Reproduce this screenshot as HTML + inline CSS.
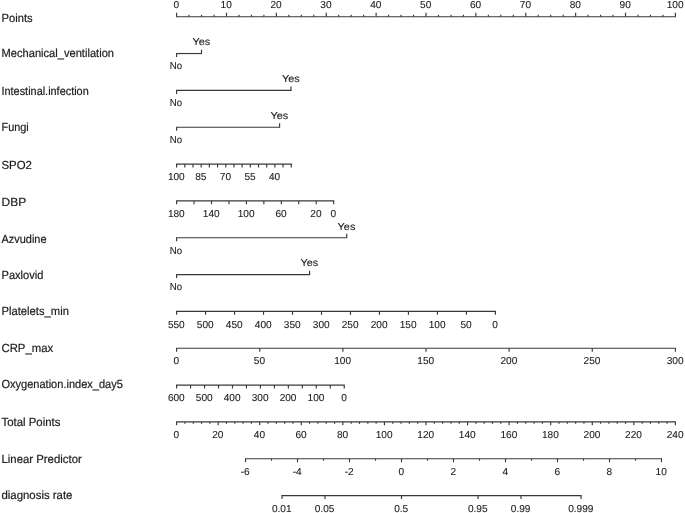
<!DOCTYPE html>
<html><head><meta charset="utf-8"><title>Nomogram</title>
<style>
html,body{margin:0;padding:0;background:#fff;}
body{width:685px;height:513px;overflow:hidden;}
svg{display:block;}
text{font-family:"Liberation Sans",Arial,Helvetica,sans-serif;fill:#1c1c1c;stroke:#1c1c1c;stroke-width:0.2px;text-rendering:geometricPrecision;}
.t{font-size:10.1px;stroke-width:0.1px;}
.l{font-size:11.7px;}
path{stroke:#383838;stroke-width:1.15;fill:none;stroke-linecap:butt;}
</style></head><body>
<svg width="685" height="513" viewBox="0 0 685 513">
<rect x="0" y="0" width="685" height="513" fill="#fff" stroke="none"/>
<g>
<path d="M176.10 16.70L675.90 16.70"/>
<path d="M176.60 16.70L176.60 12.70"/>
<path d="M189.07 16.70L189.07 14.80"/>
<path d="M201.54 16.70L201.54 14.80"/>
<path d="M214.01 16.70L214.01 14.80"/>
<path d="M226.48 16.70L226.48 12.70"/>
<path d="M238.95 16.70L238.95 14.80"/>
<path d="M251.42 16.70L251.42 14.80"/>
<path d="M263.89 16.70L263.89 14.80"/>
<path d="M276.36 16.70L276.36 12.70"/>
<path d="M288.83 16.70L288.83 14.80"/>
<path d="M301.30 16.70L301.30 14.80"/>
<path d="M313.77 16.70L313.77 14.80"/>
<path d="M326.24 16.70L326.24 12.70"/>
<path d="M338.71 16.70L338.71 14.80"/>
<path d="M351.18 16.70L351.18 14.80"/>
<path d="M363.65 16.70L363.65 14.80"/>
<path d="M376.12 16.70L376.12 12.70"/>
<path d="M388.59 16.70L388.59 14.80"/>
<path d="M401.06 16.70L401.06 14.80"/>
<path d="M413.53 16.70L413.53 14.80"/>
<path d="M426.00 16.70L426.00 12.70"/>
<path d="M438.47 16.70L438.47 14.80"/>
<path d="M450.94 16.70L450.94 14.80"/>
<path d="M463.41 16.70L463.41 14.80"/>
<path d="M475.88 16.70L475.88 12.70"/>
<path d="M488.35 16.70L488.35 14.80"/>
<path d="M500.82 16.70L500.82 14.80"/>
<path d="M513.29 16.70L513.29 14.80"/>
<path d="M525.76 16.70L525.76 12.70"/>
<path d="M538.23 16.70L538.23 14.80"/>
<path d="M550.70 16.70L550.70 14.80"/>
<path d="M563.17 16.70L563.17 14.80"/>
<path d="M575.64 16.70L575.64 12.70"/>
<path d="M588.11 16.70L588.11 14.80"/>
<path d="M600.58 16.70L600.58 14.80"/>
<path d="M613.05 16.70L613.05 14.80"/>
<path d="M625.52 16.70L625.52 12.70"/>
<path d="M637.99 16.70L637.99 14.80"/>
<path d="M650.46 16.70L650.46 14.80"/>
<path d="M662.93 16.70L662.93 14.80"/>
<path d="M675.40 16.70L675.40 12.70"/>
<path d="M176.10 53.54L202.00 53.54"/>
<path d="M176.60 53.54L176.60 57.04"/>
<path d="M201.50 53.54L201.50 49.64"/>
<path d="M176.10 90.38L291.50 90.38"/>
<path d="M176.60 90.38L176.60 93.88"/>
<path d="M291.00 90.38L291.00 86.48"/>
<path d="M176.10 127.22L280.10 127.22"/>
<path d="M176.60 127.22L176.60 130.72"/>
<path d="M279.60 127.22L279.60 123.32"/>
<path d="M176.10 164.06L291.76 164.06"/>
<path d="M176.60 164.06L176.60 167.46"/>
<path d="M184.79 164.06L184.79 167.46"/>
<path d="M192.98 164.06L192.98 167.46"/>
<path d="M201.17 164.06L201.17 167.46"/>
<path d="M209.36 164.06L209.36 167.46"/>
<path d="M217.55 164.06L217.55 167.46"/>
<path d="M225.74 164.06L225.74 167.46"/>
<path d="M233.93 164.06L233.93 167.46"/>
<path d="M242.12 164.06L242.12 167.46"/>
<path d="M250.31 164.06L250.31 167.46"/>
<path d="M258.50 164.06L258.50 167.46"/>
<path d="M266.69 164.06L266.69 167.46"/>
<path d="M274.88 164.06L274.88 167.46"/>
<path d="M283.07 164.06L283.07 167.46"/>
<path d="M291.26 164.06L291.26 167.46"/>
<path d="M176.10 200.90L334.15 200.90"/>
<path d="M176.60 200.90L176.60 204.30"/>
<path d="M194.05 200.90L194.05 204.30"/>
<path d="M211.50 200.90L211.50 204.30"/>
<path d="M228.95 200.90L228.95 204.30"/>
<path d="M246.40 200.90L246.40 204.30"/>
<path d="M263.85 200.90L263.85 204.30"/>
<path d="M281.30 200.90L281.30 204.30"/>
<path d="M298.75 200.90L298.75 204.30"/>
<path d="M316.20 200.90L316.20 204.30"/>
<path d="M333.65 200.90L333.65 204.30"/>
<path d="M176.10 237.74L347.20 237.74"/>
<path d="M176.60 237.74L176.60 241.24"/>
<path d="M346.70 237.74L346.70 233.84"/>
<path d="M176.10 274.58L310.10 274.58"/>
<path d="M176.60 274.58L176.60 278.08"/>
<path d="M309.60 274.58L309.60 270.68"/>
<path d="M176.10 311.42L495.88 311.42"/>
<path d="M176.60 311.42L176.60 314.82"/>
<path d="M205.58 311.42L205.58 314.82"/>
<path d="M234.56 311.42L234.56 314.82"/>
<path d="M263.54 311.42L263.54 314.82"/>
<path d="M292.52 311.42L292.52 314.82"/>
<path d="M321.50 311.42L321.50 314.82"/>
<path d="M350.48 311.42L350.48 314.82"/>
<path d="M379.46 311.42L379.46 314.82"/>
<path d="M408.44 311.42L408.44 314.82"/>
<path d="M437.42 311.42L437.42 314.82"/>
<path d="M466.40 311.42L466.40 314.82"/>
<path d="M495.38 311.42L495.38 314.82"/>
<path d="M176.10 348.26L675.90 348.26"/>
<path d="M176.60 348.26L176.60 351.66"/>
<path d="M259.73 348.26L259.73 351.66"/>
<path d="M342.87 348.26L342.87 351.66"/>
<path d="M426.00 348.26L426.00 351.66"/>
<path d="M509.13 348.26L509.13 351.66"/>
<path d="M592.27 348.26L592.27 351.66"/>
<path d="M675.40 348.26L675.40 351.66"/>
<path d="M176.10 385.10L344.74 385.10"/>
<path d="M176.60 385.10L176.60 388.50"/>
<path d="M190.57 385.10L190.57 388.50"/>
<path d="M204.54 385.10L204.54 388.50"/>
<path d="M218.51 385.10L218.51 388.50"/>
<path d="M232.48 385.10L232.48 388.50"/>
<path d="M246.45 385.10L246.45 388.50"/>
<path d="M260.42 385.10L260.42 388.50"/>
<path d="M274.39 385.10L274.39 388.50"/>
<path d="M288.36 385.10L288.36 388.50"/>
<path d="M302.33 385.10L302.33 388.50"/>
<path d="M316.30 385.10L316.30 388.50"/>
<path d="M330.27 385.10L330.27 388.50"/>
<path d="M344.24 385.10L344.24 388.50"/>
<path d="M176.10 421.94L675.90 421.94"/>
<path d="M176.60 421.94L176.60 425.34"/>
<path d="M184.91 421.94L184.91 423.84"/>
<path d="M193.23 421.94L193.23 423.84"/>
<path d="M201.54 421.94L201.54 423.84"/>
<path d="M209.85 421.94L209.85 423.84"/>
<path d="M218.17 421.94L218.17 425.34"/>
<path d="M226.48 421.94L226.48 423.84"/>
<path d="M234.79 421.94L234.79 423.84"/>
<path d="M243.11 421.94L243.11 423.84"/>
<path d="M251.42 421.94L251.42 423.84"/>
<path d="M259.73 421.94L259.73 425.34"/>
<path d="M268.05 421.94L268.05 423.84"/>
<path d="M276.36 421.94L276.36 423.84"/>
<path d="M284.67 421.94L284.67 423.84"/>
<path d="M292.99 421.94L292.99 423.84"/>
<path d="M301.30 421.94L301.30 425.34"/>
<path d="M309.61 421.94L309.61 423.84"/>
<path d="M317.93 421.94L317.93 423.84"/>
<path d="M326.24 421.94L326.24 423.84"/>
<path d="M334.55 421.94L334.55 423.84"/>
<path d="M342.87 421.94L342.87 425.34"/>
<path d="M351.18 421.94L351.18 423.84"/>
<path d="M359.49 421.94L359.49 423.84"/>
<path d="M367.81 421.94L367.81 423.84"/>
<path d="M376.12 421.94L376.12 423.84"/>
<path d="M384.43 421.94L384.43 425.34"/>
<path d="M392.75 421.94L392.75 423.84"/>
<path d="M401.06 421.94L401.06 423.84"/>
<path d="M409.37 421.94L409.37 423.84"/>
<path d="M417.69 421.94L417.69 423.84"/>
<path d="M426.00 421.94L426.00 425.34"/>
<path d="M434.31 421.94L434.31 423.84"/>
<path d="M442.63 421.94L442.63 423.84"/>
<path d="M450.94 421.94L450.94 423.84"/>
<path d="M459.25 421.94L459.25 423.84"/>
<path d="M467.57 421.94L467.57 425.34"/>
<path d="M475.88 421.94L475.88 423.84"/>
<path d="M484.19 421.94L484.19 423.84"/>
<path d="M492.51 421.94L492.51 423.84"/>
<path d="M500.82 421.94L500.82 423.84"/>
<path d="M509.13 421.94L509.13 425.34"/>
<path d="M517.45 421.94L517.45 423.84"/>
<path d="M525.76 421.94L525.76 423.84"/>
<path d="M534.07 421.94L534.07 423.84"/>
<path d="M542.39 421.94L542.39 423.84"/>
<path d="M550.70 421.94L550.70 425.34"/>
<path d="M559.01 421.94L559.01 423.84"/>
<path d="M567.33 421.94L567.33 423.84"/>
<path d="M575.64 421.94L575.64 423.84"/>
<path d="M583.95 421.94L583.95 423.84"/>
<path d="M592.27 421.94L592.27 425.34"/>
<path d="M600.58 421.94L600.58 423.84"/>
<path d="M608.89 421.94L608.89 423.84"/>
<path d="M617.21 421.94L617.21 423.84"/>
<path d="M625.52 421.94L625.52 423.84"/>
<path d="M633.83 421.94L633.83 425.34"/>
<path d="M642.15 421.94L642.15 423.84"/>
<path d="M650.46 421.94L650.46 423.84"/>
<path d="M658.77 421.94L658.77 423.84"/>
<path d="M667.09 421.94L667.09 423.84"/>
<path d="M675.40 421.94L675.40 425.34"/>
<path d="M245.00 458.78L662.00 458.78"/>
<path d="M245.50 458.78L245.50 462.18"/>
<path d="M271.50 458.78L271.50 460.68"/>
<path d="M297.50 458.78L297.50 462.18"/>
<path d="M323.50 458.78L323.50 460.68"/>
<path d="M349.50 458.78L349.50 462.18"/>
<path d="M375.50 458.78L375.50 460.68"/>
<path d="M401.50 458.78L401.50 462.18"/>
<path d="M427.50 458.78L427.50 460.68"/>
<path d="M453.50 458.78L453.50 462.18"/>
<path d="M479.50 458.78L479.50 460.68"/>
<path d="M505.50 458.78L505.50 462.18"/>
<path d="M531.50 458.78L531.50 460.68"/>
<path d="M557.50 458.78L557.50 462.18"/>
<path d="M583.50 458.78L583.50 460.68"/>
<path d="M609.50 458.78L609.50 462.18"/>
<path d="M635.50 458.78L635.50 460.68"/>
<path d="M661.50 458.78L661.50 462.18"/>
<path d="M281.53 495.62L581.58 495.62"/>
<path d="M282.03 495.62L282.03 499.02"/>
<path d="M324.94 495.62L324.94 499.02"/>
<path d="M401.50 495.62L401.50 499.02"/>
<path d="M478.06 495.62L478.06 499.02"/>
<path d="M520.97 495.62L520.97 499.02"/>
<path d="M581.08 495.62L581.08 499.02"/>
</g>
<g>
<text class="l" x="1.5" y="22.00" textLength="31.13" lengthAdjust="spacingAndGlyphs">Points</text>
<text class="l" x="1.5" y="57.00" textLength="112.52" lengthAdjust="spacingAndGlyphs">Mechanical_ventilation</text>
<text class="l" x="1.5" y="95.00" textLength="87.23" lengthAdjust="spacingAndGlyphs">Intestinal.infection</text>
<text class="l" x="1.5" y="131.00" textLength="27.20" lengthAdjust="spacingAndGlyphs">Fungi</text>
<text class="l" x="1.5" y="169.00" textLength="30.48" lengthAdjust="spacingAndGlyphs">SPO2</text>
<text class="l" x="1.5" y="206.00" textLength="24.66" lengthAdjust="spacingAndGlyphs">DBP</text>
<text class="l" x="1.5" y="243.00" textLength="45.06" lengthAdjust="spacingAndGlyphs">Azvudine</text>
<text class="l" x="1.5" y="279.00" textLength="41.91" lengthAdjust="spacingAndGlyphs">Paxlovid</text>
<text class="l" x="1.5" y="315.00" textLength="67.43" lengthAdjust="spacingAndGlyphs">Platelets_min</text>
<text class="l" x="1.5" y="352.00" textLength="51.65" lengthAdjust="spacingAndGlyphs">CRP_max</text>
<text class="l" x="1.5" y="388.00" textLength="121.32" lengthAdjust="spacingAndGlyphs">Oxygenation.index_day5</text>
<text class="l" x="1.5" y="426.00" textLength="58.88" lengthAdjust="spacingAndGlyphs">Total Points</text>
<text class="l" x="1.5" y="463.00" textLength="80.25" lengthAdjust="spacingAndGlyphs">Linear Predictor</text>
<text class="l" x="1.5" y="499.00" textLength="70.92" lengthAdjust="spacingAndGlyphs">diagnosis rate</text>
<text class="t" transform="translate(176.30 8.30) scale(1 1.0)" text-anchor="middle">0</text>
<text class="t" transform="translate(226.18 8.30) scale(1 1.0)" text-anchor="middle">10</text>
<text class="t" transform="translate(276.06 8.30) scale(1 1.0)" text-anchor="middle">20</text>
<text class="t" transform="translate(325.94 8.30) scale(1 1.0)" text-anchor="middle">30</text>
<text class="t" transform="translate(375.82 8.30) scale(1 1.0)" text-anchor="middle">40</text>
<text class="t" transform="translate(425.70 8.30) scale(1 1.0)" text-anchor="middle">50</text>
<text class="t" transform="translate(475.58 8.30) scale(1 1.0)" text-anchor="middle">60</text>
<text class="t" transform="translate(525.46 8.30) scale(1 1.0)" text-anchor="middle">70</text>
<text class="t" transform="translate(575.34 8.30) scale(1 1.0)" text-anchor="middle">80</text>
<text class="t" transform="translate(625.22 8.30) scale(1 1.0)" text-anchor="middle">90</text>
<text class="t" transform="translate(675.10 8.30) scale(1 1.0)" text-anchor="middle">100</text>
<text class="t" x="169.85" y="69.34" textLength="12.3" lengthAdjust="spacingAndGlyphs">No</text>
<text class="t" x="192.40" y="45.44" textLength="17.8" lengthAdjust="spacingAndGlyphs">Yes</text>
<text class="t" x="169.85" y="106.18" textLength="12.3" lengthAdjust="spacingAndGlyphs">No</text>
<text class="t" x="281.90" y="82.08" textLength="17.8" lengthAdjust="spacingAndGlyphs">Yes</text>
<text class="t" x="169.85" y="143.42" textLength="12.3" lengthAdjust="spacingAndGlyphs">No</text>
<text class="t" x="270.50" y="119.32" textLength="17.8" lengthAdjust="spacingAndGlyphs">Yes</text>
<text class="t" transform="translate(176.30 180.26) scale(1 1.0)" text-anchor="middle">100</text>
<text class="t" transform="translate(200.87 180.26) scale(1 1.0)" text-anchor="middle">85</text>
<text class="t" transform="translate(225.44 180.26) scale(1 1.0)" text-anchor="middle">70</text>
<text class="t" transform="translate(250.01 180.26) scale(1 1.0)" text-anchor="middle">55</text>
<text class="t" transform="translate(274.58 180.26) scale(1 1.0)" text-anchor="middle">40</text>
<text class="t" transform="translate(176.30 217.10) scale(1 1.0)" text-anchor="middle">180</text>
<text class="t" transform="translate(211.20 217.10) scale(1 1.0)" text-anchor="middle">140</text>
<text class="t" transform="translate(246.10 217.10) scale(1 1.0)" text-anchor="middle">100</text>
<text class="t" transform="translate(281.00 217.10) scale(1 1.0)" text-anchor="middle">60</text>
<text class="t" transform="translate(315.90 217.10) scale(1 1.0)" text-anchor="middle">20</text>
<text class="t" transform="translate(333.35 217.10) scale(1 1.0)" text-anchor="middle">0</text>
<text class="t" x="169.85" y="253.64" textLength="12.3" lengthAdjust="spacingAndGlyphs">No</text>
<text class="t" x="337.60" y="230.04" textLength="17.8" lengthAdjust="spacingAndGlyphs">Yes</text>
<text class="t" x="169.85" y="290.08" textLength="12.3" lengthAdjust="spacingAndGlyphs">No</text>
<text class="t" x="300.50" y="266.28" textLength="17.8" lengthAdjust="spacingAndGlyphs">Yes</text>
<text class="t" transform="translate(176.30 327.62) scale(1 1.0)" text-anchor="middle">550</text>
<text class="t" transform="translate(205.28 327.62) scale(1 1.0)" text-anchor="middle">500</text>
<text class="t" transform="translate(234.26 327.62) scale(1 1.0)" text-anchor="middle">450</text>
<text class="t" transform="translate(263.24 327.62) scale(1 1.0)" text-anchor="middle">400</text>
<text class="t" transform="translate(292.22 327.62) scale(1 1.0)" text-anchor="middle">350</text>
<text class="t" transform="translate(321.20 327.62) scale(1 1.0)" text-anchor="middle">300</text>
<text class="t" transform="translate(350.18 327.62) scale(1 1.0)" text-anchor="middle">250</text>
<text class="t" transform="translate(379.16 327.62) scale(1 1.0)" text-anchor="middle">200</text>
<text class="t" transform="translate(408.14 327.62) scale(1 1.0)" text-anchor="middle">150</text>
<text class="t" transform="translate(437.12 327.62) scale(1 1.0)" text-anchor="middle">100</text>
<text class="t" transform="translate(466.10 327.62) scale(1 1.0)" text-anchor="middle">50</text>
<text class="t" transform="translate(495.08 327.62) scale(1 1.0)" text-anchor="middle">0</text>
<text class="t" transform="translate(176.30 364.46) scale(1 1.0)" text-anchor="middle">0</text>
<text class="t" transform="translate(259.43 364.46) scale(1 1.0)" text-anchor="middle">50</text>
<text class="t" transform="translate(342.57 364.46) scale(1 1.0)" text-anchor="middle">100</text>
<text class="t" transform="translate(425.70 364.46) scale(1 1.0)" text-anchor="middle">150</text>
<text class="t" transform="translate(508.83 364.46) scale(1 1.0)" text-anchor="middle">200</text>
<text class="t" transform="translate(591.97 364.46) scale(1 1.0)" text-anchor="middle">250</text>
<text class="t" transform="translate(675.10 364.46) scale(1 1.0)" text-anchor="middle">300</text>
<text class="t" transform="translate(176.30 401.30) scale(1 1.0)" text-anchor="middle">600</text>
<text class="t" transform="translate(204.24 401.30) scale(1 1.0)" text-anchor="middle">500</text>
<text class="t" transform="translate(232.18 401.30) scale(1 1.0)" text-anchor="middle">400</text>
<text class="t" transform="translate(260.12 401.30) scale(1 1.0)" text-anchor="middle">300</text>
<text class="t" transform="translate(288.06 401.30) scale(1 1.0)" text-anchor="middle">200</text>
<text class="t" transform="translate(316.00 401.30) scale(1 1.0)" text-anchor="middle">100</text>
<text class="t" transform="translate(343.94 401.30) scale(1 1.0)" text-anchor="middle">0</text>
<text class="t" transform="translate(176.30 438.14) scale(1 1.0)" text-anchor="middle">0</text>
<text class="t" transform="translate(217.87 438.14) scale(1 1.0)" text-anchor="middle">20</text>
<text class="t" transform="translate(259.43 438.14) scale(1 1.0)" text-anchor="middle">40</text>
<text class="t" transform="translate(301.00 438.14) scale(1 1.0)" text-anchor="middle">60</text>
<text class="t" transform="translate(342.57 438.14) scale(1 1.0)" text-anchor="middle">80</text>
<text class="t" transform="translate(384.13 438.14) scale(1 1.0)" text-anchor="middle">100</text>
<text class="t" transform="translate(425.70 438.14) scale(1 1.0)" text-anchor="middle">120</text>
<text class="t" transform="translate(467.27 438.14) scale(1 1.0)" text-anchor="middle">140</text>
<text class="t" transform="translate(508.83 438.14) scale(1 1.0)" text-anchor="middle">160</text>
<text class="t" transform="translate(550.40 438.14) scale(1 1.0)" text-anchor="middle">180</text>
<text class="t" transform="translate(591.97 438.14) scale(1 1.0)" text-anchor="middle">200</text>
<text class="t" transform="translate(633.53 438.14) scale(1 1.0)" text-anchor="middle">220</text>
<text class="t" transform="translate(675.10 438.14) scale(1 1.0)" text-anchor="middle">240</text>
<text class="t" transform="translate(245.20 474.98) scale(1 1.0)" text-anchor="middle">-6</text>
<text class="t" transform="translate(297.20 474.98) scale(1 1.0)" text-anchor="middle">-4</text>
<text class="t" transform="translate(349.20 474.98) scale(1 1.0)" text-anchor="middle">-2</text>
<text class="t" transform="translate(401.20 474.98) scale(1 1.0)" text-anchor="middle">0</text>
<text class="t" transform="translate(453.20 474.98) scale(1 1.0)" text-anchor="middle">2</text>
<text class="t" transform="translate(505.20 474.98) scale(1 1.0)" text-anchor="middle">4</text>
<text class="t" transform="translate(557.20 474.98) scale(1 1.0)" text-anchor="middle">6</text>
<text class="t" transform="translate(609.20 474.98) scale(1 1.0)" text-anchor="middle">8</text>
<text class="t" transform="translate(661.20 474.98) scale(1 1.0)" text-anchor="middle">10</text>
<text class="t" transform="translate(281.73 511.82) scale(1 1.0)" text-anchor="middle">0.01</text>
<text class="t" transform="translate(324.64 511.82) scale(1 1.0)" text-anchor="middle">0.05</text>
<text class="t" transform="translate(401.20 511.82) scale(1 1.0)" text-anchor="middle">0.5</text>
<text class="t" transform="translate(477.76 511.82) scale(1 1.0)" text-anchor="middle">0.95</text>
<text class="t" transform="translate(520.67 511.82) scale(1 1.0)" text-anchor="middle">0.99</text>
<text class="t" transform="translate(580.78 511.82) scale(1 1.0)" text-anchor="middle">0.999</text>
</g>
</svg>
</body></html>
